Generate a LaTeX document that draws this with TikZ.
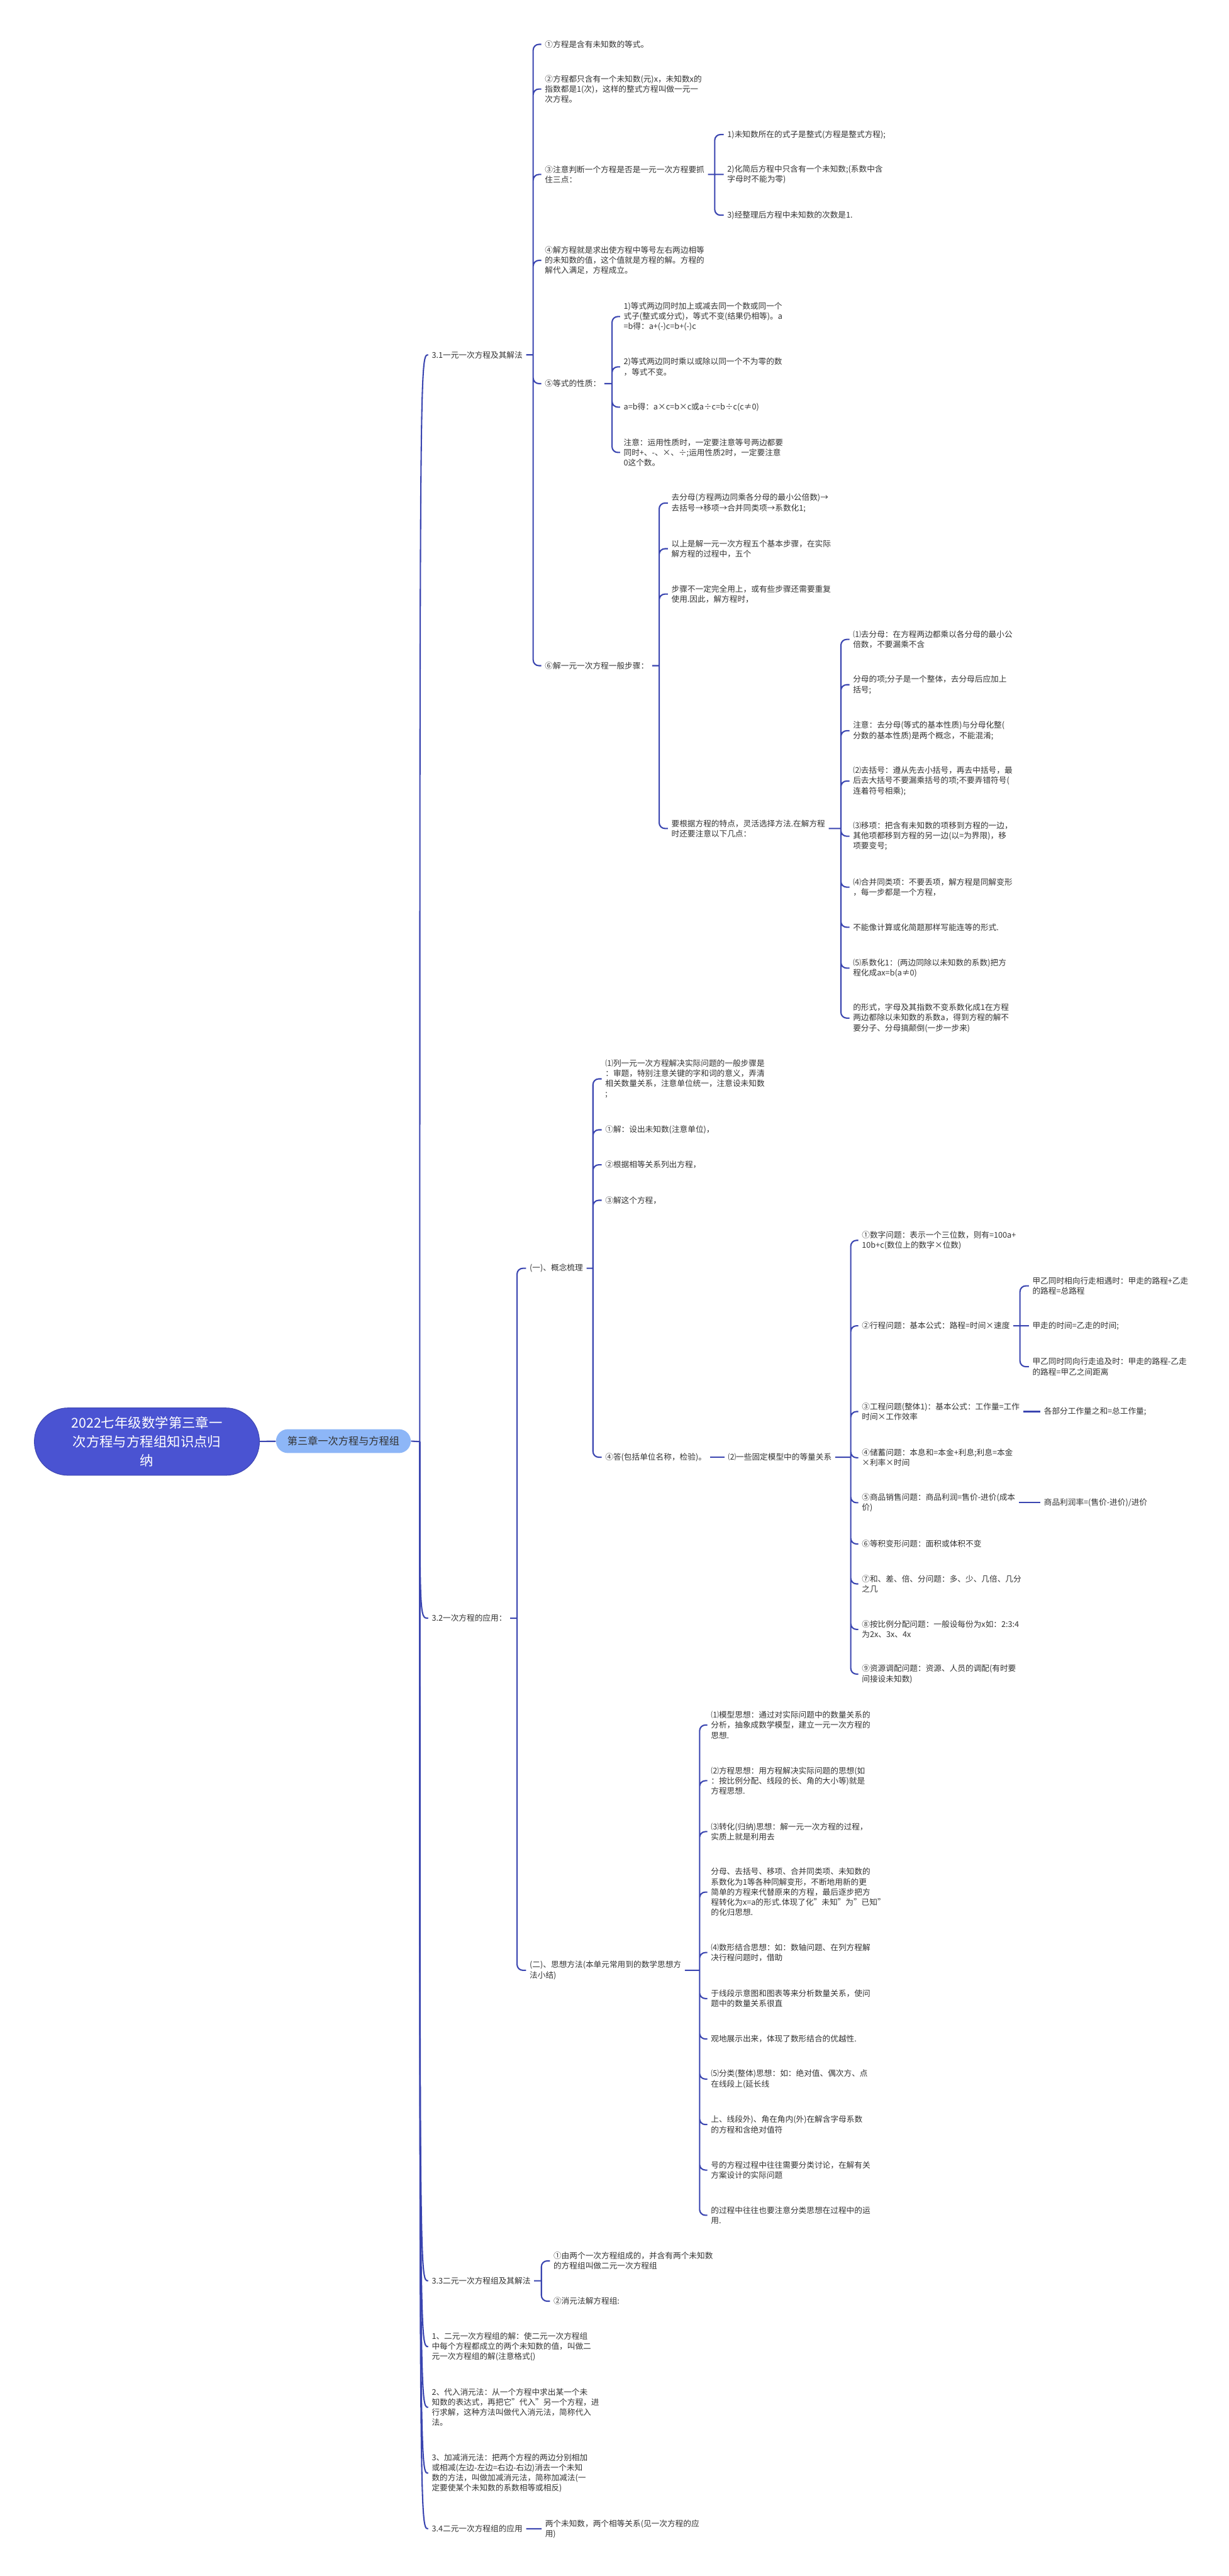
\documentclass[tikz,border=0pt]{standalone}
\usepackage{fontspec}
\setmainfont{Noto Sans CJK SC}
\usetikzlibrary{calc}
\definecolor{Linea}{HTML}{3A45B0}
\definecolor{Raiz}{HTML}{4A53D2}
\definecolor{Tema}{HTML}{8DB6F7}
\definecolor{Texto}{HTML}{333333}

\begin{document}
\begin{tikzpicture}[x=1pt,y=-1pt,
        raiz/.style={fill=Raiz,draw=Raiz!85!black,line width=.4pt,rounded corners=20.5pt,minimum width=137pt,minimum height=41pt,align=center,text=white,font=\fontsize{8.2}{11.5}\selectfont},
        tema/.style={fill=Tema,rounded corners=7.2pt,minimum width=82pt,minimum height=14.5pt,inner sep=1pt,text=Texto,font=\fontsize{6.2}{7}\selectfont},
        hoja/.style={anchor=west,inner xsep=2pt,inner ysep=.5pt,align=left,text=Texto,font=\fontsize{4.85}{6.2}\selectfont},
        rama/.style={draw=Linea,line width=.8pt,rounded corners=3.5pt}]
        \path[fill=white,use as bounding box] (0,0) rectangle (748,1568);
        \node[raiz] (raiz) at (89.4,877.5) {2022七年级数学第三章一\\次方程与方程组知识点归\\纳};
        \node[tema] (tema) at (209,877.2) {第三章一次方程与方程组};
        \coordinate (tronco) at (255.5,877.5);
        \node[hoja] (c31) at (260.6,216) {3.1一元一次方程及其解法};
        \node[hoja] (c32) at (260.6,985) {3.2一次方程的应用：};
        \node[hoja] (c33) at (260.6,1388.3) {3.3二元一次方程组及其解法};
        \node[hoja] (u1) at (260.6,1428.4) {1、二元一次方程组的解：使二元一次方程组\\中每个方程都成立的两个未知数的值，叫做二\\元一次方程组的解(注意格式\{)};
        \node[hoja] (u2) at (260.6,1465.3) {2、代入消元法：从一个方程中求出某一个未\\知数的表达式，再把它"代入"另一个方程，进\\行求解，这种方法叫做代入消元法，简称代入\\法。};
        \node[hoja] (u3) at (260.6,1505.4) {3、加减消元法：把两个方程的两边分别相加\\或相减(左边-左边=右边-右边)消去一个未知\\数的方法，叫做加减消元法，简称加减法(一\\定要使某个未知数的系数相等或相反)};
        \node[hoja] (c34) at (260.6,1539.2) {3.4二元一次方程组的应用};
        \node[hoja] (a1) at (329.5,27) {①方程是含有未知数的等式。};
        \node[hoja] (a2) at (329.5,54.2) {②方程都只含有一个未知数(元)x，未知数x的\\指数都是1(次)，这样的整式方程叫做一元一\\次方程。};
        \node[hoja] (a3) at (329.5,106.2) {③注意判断一个方程是否是一元一次方程要抓\\住三点：};
        \node[hoja] (a4) at (329.5,158.5) {④解方程就是求出使方程中等号左右两边相等\\的未知数的值，这个值就是方程的解。方程的\\解代入满足，方程成立。};
        \node[hoja] (a5) at (329.5,233.5) {⑤等式的性质：};
        \node[hoja] (a6) at (329.5,405.2) {⑥解一元一次方程一般步骤：};
        \node[hoja] (b1) at (440.5,81.9) {1)未知数所在的式子是整式(方程是整式方程);};
        \node[hoja] (b2) at (440.5,106.2) {2)化简后方程中只含有一个未知数;(系数中含\\字母时不能为零)};
        \node[hoja] (b3) at (440.5,131) {3)经整理后方程中未知数的次数是1.};
        \node[hoja] (e1) at (377.4,192.7) {1)等式两边同时加上或减去同一个数或同一个\\式子(整式或分式)，等式不变(结果仍相等)。a\\=b得：a+(-)c=b+(-)c};
        \node[hoja] (e2) at (377.4,223.3) {2)等式两边同时乘以或除以同一个不为零的数\\，等式不变。};
        \node[hoja] (e3) at (377.4,247.8) {a=b得：a×c=b×c或a÷c=b÷c(c≠0)};
        \node[hoja] (e4) at (377.4,275.4) {注意：运用性质时，一定要注意等号两边都要\\同时+、-、×、÷;运用性质2时，一定要注意\\0这个数。};
        \node[hoja] (f1) at (406.5,306.2) {去分母(方程两边同乘各分母的最小公倍数)→\\去括号→移项→合并同类项→系数化1;};
        \node[hoja] (f2) at (406.5,334) {以上是解一元一次方程五个基本步骤，在实际\\解方程的过程中，五个};
        \node[hoja] (f3) at (406.5,361.6) {步骤不一定完全用上，或有些步骤还需要重复\\使用.因此，解方程时，};
        \node[hoja] (f4) at (406.5,504.3) {要根据方程的特点，灵活选择方法.在解方程\\时还要注意以下几点：};
        \node[hoja] (g1) at (517,389.2) {⑴去分母：在方程两边都乘以各分母的最小公\\倍数，不要漏乘不含};
        \node[hoja] (g2) at (517,416.8) {分母的项;分子是一个整体，去分母后应加上\\括号;};
        \node[hoja] (g3) at (517,444.8) {注意：去分母(等式的基本性质)与分母化整(\\分数的基本性质)是两个概念，不能混淆;};
        \node[hoja] (g4) at (517,475.4) {⑵去括号：遵从先去小括号，再去中括号，最\\后去大括号不要漏乘括号的项;不要弄错符号(\\连着符号相乘);};
        \node[hoja] (g5) at (517,509) {⑶移项：把含有未知数的项移到方程的一边，\\其他项都移到方程的另一边(以=为界限)，移\\项要变号;};
        \node[hoja] (g6) at (517,540) {⑷合并同类项：不要丢项，解方程是同解变形\\，每一步都是一个方程，};
        \node[hoja] (g7) at (517,564.4) {不能像计算或化简题那样写能连等的形式.};
        \node[hoja] (g8) at (517,589.3) {⑸系数化1：(两边同除以未知数的系数)把方\\程化成ax=b(a≠0)};
        \node[hoja] (g9) at (517,619.7) {的形式，字母及其指数不变系数化成1在方程\\两边都除以未知数的系数a，得到方程的解不\\要分子、分母搞颠倒(一步一步来)};
        \node[hoja] (k1) at (320.2,772) {(一)、概念梳理};
        \node[hoja] (k2) at (320.2,1199.3) {(二)、思想方法(本单元常用到的数学思想方\\法小结)};
        \node[hoja] (m1) at (366.2,656.7) {⑴列一元一次方程解决实际问题的一般步骤是\\：审题，特别注意关键的字和词的意义，弄清\\相关数量关系，注意单位统一，注意设未知数\\;};
        \node[hoja] (m2) at (366.2,687.7) {①解：设出未知数(注意单位)，};
        \node[hoja] (m3) at (366.2,709) {②根据相等关系列出方程，};
        \node[hoja] (m4) at (366.2,730.6) {③解这个方程，};
        \node[hoja] (m5) at (366.2,887) {④答(包括单位名称，检验)。};
        \node[hoja] (n) at (440.9,887) {⑵一些固定模型中的等量关系};
        \node[hoja] (p1) at (522.4,755) {①数字问题：表示一个三位数，则有=100a+\\10b+c(数位上的数字×位数)};
        \node[hoja] (p2) at (522.4,807) {②行程问题：基本公式：路程=时间×速度};
        \node[hoja] (p3) at (522.4,859.2) {③工程问题(整体1)：基本公式：工作量=工作\\时间×工作效率};
        \node[hoja] (p4) at (522.4,887.3) {④储蓄问题：本息和=本金+利息;利息=本金\\×利率×时间};
        \node[hoja] (p5) at (522.4,914.7) {⑤商品销售问题：商品利润=售价-进价(成本\\价)};
        \node[hoja] (p6) at (522.4,939.8) {⑥等积变形问题：面积或体积不变};
        \node[hoja] (p7) at (522.4,964.1) {⑦和、差、倍、分问题：多、少、几倍、几分\\之几};
        \node[hoja] (p8) at (522.4,991.8) {⑧按比例分配问题：一般设每份为x如：2:3:4\\为2x、3x、4x};
        \node[hoja] (p9) at (522.4,1019) {⑨资源调配问题：资源、人员的调配(有时要\\间接设未知数)};
        \node[hoja] (q1) at (626.2,782.7) {甲乙同时相向行走相遇时：甲走的路程+乙走\\的路程=总路程};
        \node[hoja] (q2) at (626.2,807) {甲走的时间=乙走的时间;};
        \node[hoja] (q3) at (626.2,831.9) {甲乙同时同向行走追及时：甲走的路程-乙走\\的路程=甲乙之间距离};
        \node[hoja] (r3) at (633.2,859.2) {各部分工作量之和=总工作量;};
        \node[hoja] (r5) at (633.2,914.7) {商品利润率=(售价-进价)/进价};
        \node[hoja] (s1) at (430.5,1050) {⑴模型思想：通过对实际问题中的数量关系的\\分析，抽象成数学模型，建立一元一次方程的\\思想.};
        \node[hoja] (s2) at (430.5,1083.9) {⑵方程思想：用方程解决实际问题的思想(如\\：按比例分配、线段的长、角的大小等)就是\\方程思想.};
        \node[hoja] (s3) at (430.5,1114.9) {⑶转化(归纳)思想：解一元一次方程的过程，\\实质上就是利用去};
        \node[hoja] (s4) at (430.5,1151.7) {分母、去括号、移项、合并同类项、未知数的\\系数化为1等各种同解变形，不断地用新的更\\简单的方程来代替原来的方程，最后逐步把方\\程转化为x=a的形式.体现了化"未知"为"已知"\\的化归思想.};
        \node[hoja] (s5) at (430.5,1188.5) {⑷数形结合思想：如：数轴问题、在列方程解\\决行程问题时，借助};
        \node[hoja] (s6) at (430.5,1216.5) {于线段示意图和图表等来分析数量关系，使问\\题中的数量关系很直};
        \node[hoja] (s7) at (430.5,1241.1) {观地展示出来，体现了数形结合的优越性.};
        \node[hoja] (s8) at (430.5,1265.5) {⑸分类(整体)思想：如：绝对值、偶次方、点\\在线段上(延长线};
        \node[hoja] (s9) at (430.5,1293.2) {上、线段外)、角在角内(外)在解含字母系数\\的方程和含绝对值符};
        \node[hoja] (s10) at (430.5,1320.9) {号的方程过程中往往需要分类讨论，在解有关\\方案设计的实际问题};
        \node[hoja] (s11) at (430.5,1348.4) {的过程中往往也要注意分类思想在过程中的运\\用.};
        \node[hoja] (t1) at (334.7,1376.2) {①由两个一次方程组成的，并含有两个未知数\\的方程组叫做二元一次方程组};
        \node[hoja] (t2) at (334.7,1400.7) {②消元法解方程组:};
        \node[hoja] (v1) at (329.6,1539.3) {两个未知数，两个相等关系(见一次方程的应\\用)};
        \coordinate (l31) at (324.5,216);
        \coordinate (la3) at (435,106.2);
        \coordinate (la5) at (372.5,233.5);
        \coordinate (la6) at (401.2,405.2);
        \coordinate (lf4) at (511.8,504.3);
        \coordinate (l32) at (314.7,985);
        \coordinate (lk1) at (360.9,772);
        \coordinate (ln) at (517.8,887);
        \coordinate (lp2) at (620.8,807);
        \coordinate (lk2) at (425.8,1199.3);
        \coordinate (l33) at (329.5,1388.3);
        \draw[rama] (raiz) -- (tema);
        \draw[rama] (tema.east) -- (tronco);
        \draw[rama] (tronco) .. controls (tronco |- c31.west) .. (c31.west);
        \draw[rama] (tronco) .. controls (tronco |- c32.west) .. (c32.west);
        \draw[rama] (tronco) .. controls (tronco |- c33.west) .. (c33.west);
        \draw[rama] (tronco) .. controls (tronco |- u1.west) .. (u1.west);
        \draw[rama] (tronco) .. controls (tronco |- u2.west) .. (u2.west);
        \draw[rama] (tronco) .. controls (tronco |- u3.west) .. (u3.west);
        \draw[rama] (tronco) .. controls (tronco |- c34.west) .. (c34.west);
        \draw[rama] (c31.east) -- (l31) (l31) |- (a1.west) (l31) |- (a2.west) (l31) |- (a3.west) (l31) |- (a4.west) (l31) |- (a5.west) (l31) |- (a6.west);
        \draw[rama] (a3.east) -- (la3) (la3) |- (b1.west) (la3) -- (b2.west) (la3) |- (b3.west);
        \draw[rama] (a5.east) -- (la5) (la5) |- (e1.west) (la5) |- (e2.west) (la5) |- (e3.west) (la5) |- (e4.west);
        \draw[rama] (a6.east) -- (la6) (la6) |- (f1.west) (la6) |- (f2.west) (la6) |- (f3.west) (la6) |- (f4.west);
        \draw[rama] (f4.east) -- (lf4) (lf4) |- (g1.west) (lf4) |- (g2.west) (lf4) |- (g3.west) (lf4) |- (g4.west) (lf4) |- (g5.west) (lf4) |- (g6.west) (lf4) |- (g7.west) (lf4) |- (g8.west) (lf4) |- (g9.west);
        \draw[rama] (c32.east) -- (l32) (l32) |- (k1.west) (l32) |- (k2.west);
        \draw[rama] (k1.east) -- (lk1) (lk1) |- (m1.west) (lk1) |- (m2.west) (lk1) |- (m3.west) (lk1) |- (m4.west) (lk1) |- (m5.west);
        \draw[rama] (m5) -- (n);
        \draw[rama] (n.east) -- (ln) (ln) |- (p1.west) (ln) |- (p2.west) (ln) |- (p3.west) (ln) |- (p4.west) (ln) |- (p5.west) (ln) |- (p6.west) (ln) |- (p7.west) (ln) |- (p8.west) (ln) |- (p9.west);
        \draw[rama] (p2.east) -- (lp2) (lp2) |- (q1.west) (lp2) -- (q2.west) (lp2) |- (q3.west);
        \draw[rama] (p3) -- (r3);
        \draw[rama] (p5) -- (r5);
        \draw[rama] (k2.east) -- (lk2) (lk2) |- (s1.west) (lk2) |- (s2.west) (lk2) |- (s3.west) (lk2) |- (s4.west) (lk2) |- (s5.west) (lk2) |- (s6.west) (lk2) |- (s7.west) (lk2) |- (s8.west) (lk2) |- (s9.west) (lk2) |- (s10.west) (lk2) |- (s11.west);
        \draw[rama] (c33.east) -- (l33) (l33) |- (t1.west) (l33) |- (t2.west);
        \draw[rama] (c34) -- (v1);
      \end{tikzpicture}
\end{document}
